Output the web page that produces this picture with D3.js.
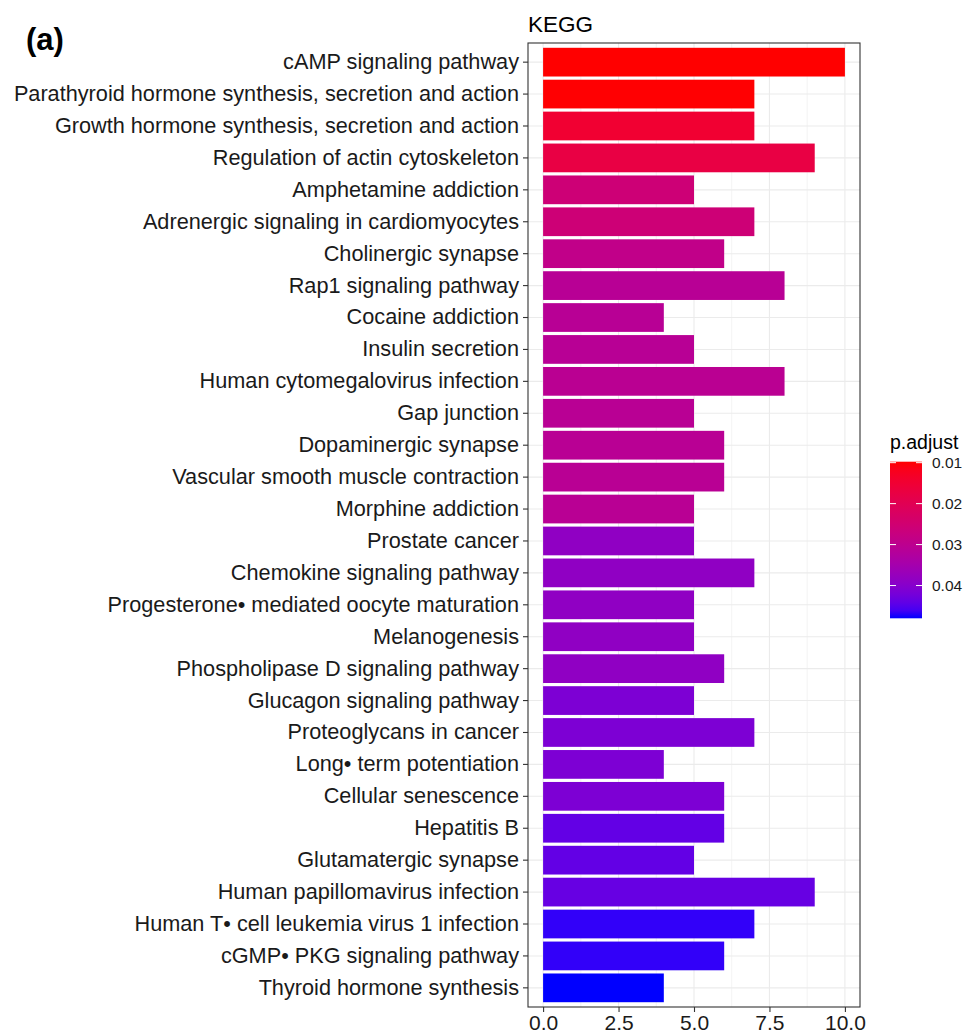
<!DOCTYPE html>
<html>
<head>
<meta charset="utf-8">
<script src="https://cdn.jsdelivr.net/npm/d3@7"></script>
<style>
  html, body { margin: 0; padding: 0; background: #ffffff; }
  svg { display: block; font-family: "Liberation Sans", Arial, Helvetica, sans-serif; }
</style>
</head>
<body>
<svg id="chart" width="966" height="1035"></svg>
<script>
// KEGG pathway enrichment: gene count per pathway, coloured by adjusted p-value
const pathways = [
  "cAMP signaling pathway",
  "Parathyroid hormone synthesis, secretion and action",
  "Growth hormone synthesis, secretion and action",
  "Regulation of actin cytoskeleton",
  "Amphetamine addiction",
  "Adrenergic signaling in cardiomyocytes",
  "Cholinergic synapse",
  "Rap1 signaling pathway",
  "Cocaine addiction",
  "Insulin secretion",
  "Human cytomegalovirus infection",
  "Gap junction",
  "Dopaminergic synapse",
  "Vascular smooth muscle contraction",
  "Morphine addiction",
  "Prostate cancer",
  "Chemokine signaling pathway",
  "Progesterone\u2022 mediated oocyte maturation",
  "Melanogenesis",
  "Phospholipase D signaling pathway",
  "Glucagon signaling pathway",
  "Proteoglycans in cancer",
  "Long\u2022 term potentiation",
  "Cellular senescence",
  "Hepatitis B",
  "Glutamatergic synapse",
  "Human papillomavirus infection",
  "Human T\u2022 cell leukemia virus 1 infection",
  "cGMP\u2022 PKG signaling pathway",
  "Thyroid hormone synthesis"
];
const geneCount = [10, 7, 7, 9, 5, 7, 6, 8, 4, 5, 8, 5, 6, 6, 5, 5, 7, 5, 5, 6, 5, 7, 4, 6, 6, 5, 9, 7, 6, 4];
const pAdjust = [
  0.00976, 0.0099, 0.0147, 0.0175, 0.0258, 0.0258, 0.0290, 0.0310, 0.0310, 0.0310,
  0.0306, 0.0308, 0.0308, 0.0308, 0.0308, 0.0385, 0.0385, 0.0385, 0.0385, 0.0385,
  0.0412, 0.0412, 0.0412, 0.0412, 0.0439, 0.0439, 0.0436, 0.0470, 0.0470, 0.0480
];
const countTicks = [0, 2.5, 5, 7.5, 10];
const countMinorTicks = [1.25, 3.75, 6.25, 8.75];
const legendTicks = [0.01, 0.02, 0.03, 0.04];

const data = pathways.map((name, i) => ({ name, count: geneCount[i], p: pAdjust[i] }));

const svg = d3.select("#chart");
const panel = { left: 528, right: 860, top: 43, bottom: 1007 };

const x = d3.scaleLinear().domain([-0.5, 10.5]).range([panel.left, panel.right]);
const y = d3.scaleBand()
  .domain(pathways)
  .range([panel.top, panel.bottom])
  .paddingInner(0.1)
  .paddingOuter(0.15);

const pExtent = d3.extent(pAdjust);
const color = d3.scaleSequential(d3.interpolateLab("#ff0000", "#0000ff")).domain(pExtent);

// panel background and grid
const grid = svg.append("g");
grid.append("rect")
  .attr("x", panel.left).attr("y", panel.top)
  .attr("width", panel.right - panel.left).attr("height", panel.bottom - panel.top)
  .attr("fill", "#ffffff");
grid.selectAll("line.minor-x").data(countMinorTicks).join("line")
  .attr("x1", d => x(d)).attr("x2", d => x(d))
  .attr("y1", panel.top).attr("y2", panel.bottom)
  .attr("stroke", "#ebebeb").attr("stroke-width", 0.6);
grid.selectAll("line.major-x").data(countTicks).join("line")
  .attr("x1", d => x(d)).attr("x2", d => x(d))
  .attr("y1", panel.top).attr("y2", panel.bottom)
  .attr("stroke", "#ebebeb").attr("stroke-width", 1.1);
grid.selectAll("line.major-y").data(pathways).join("line")
  .attr("x1", panel.left).attr("x2", panel.right)
  .attr("y1", d => y(d) + y.bandwidth() / 2).attr("y2", d => y(d) + y.bandwidth() / 2)
  .attr("stroke", "#ebebeb").attr("stroke-width", 1.1);

// bars
svg.append("g").selectAll("rect").data(data).join("rect")
  .attr("x", x(0))
  .attr("y", d => y(d.name))
  .attr("width", d => x(d.count) - x(0))
  .attr("height", y.bandwidth())
  .attr("fill", d => color(d.p));

// panel border
svg.append("rect")
  .attr("x", panel.left).attr("y", panel.top)
  .attr("width", panel.right - panel.left).attr("height", panel.bottom - panel.top)
  .attr("fill", "none").attr("stroke", "#333333").attr("stroke-width", 1.1);

// axes
const xAxis = svg.append("g")
  .attr("transform", `translate(0,${panel.bottom})`)
  .call(d3.axisBottom(x).tickValues(countTicks).tickFormat(d3.format(".1f")).tickSize(5).tickPadding(3));
const yAxis = svg.append("g")
  .attr("transform", `translate(${panel.left},0)`)
  .call(d3.axisLeft(y).tickSize(5).tickPadding(4));
[xAxis, yAxis].forEach(ax => {
  ax.select(".domain").remove();
  ax.selectAll(".tick line").attr("stroke", "#333333").attr("stroke-width", 1.1);
  ax.selectAll(".tick text")
    .attr("fill", "#1a1a1a")
    .style("font-family", "'Liberation Sans', Arial, sans-serif");
});
xAxis.selectAll(".tick text").style("font-size", "21px");
yAxis.selectAll(".tick text").style("font-size", "21.7px");

// title and panel tag
svg.append("text")
  .attr("x", panel.left).attr("y", 32)
  .attr("fill", "#000")
  .style("font-size", "22.5px")
  .text("KEGG");
svg.append("text")
  .attr("x", 26).attr("y", 50)
  .attr("fill", "#000")
  .style("font-size", "31px")
  .style("font-weight", "bold")
  .text("(a)");

// colour bar legend
const legend = { x: 890, width: 32, top: 461.7, bottom: 618.3 };
const ly = d3.scaleLinear().domain(pExtent).range([legend.top, legend.bottom]);
const grad = svg.append("defs").append("linearGradient")
  .attr("id", "padjGrad").attr("x1", 0).attr("y1", 0).attr("x2", 0).attr("y2", 1);
d3.range(0, 1.0001, 0.05).forEach(t => {
  grad.append("stop")
    .attr("offset", t)
    .attr("stop-color", color(pExtent[0] + t * (pExtent[1] - pExtent[0])));
});
svg.append("text")
  .attr("x", legend.x).attr("y", 449)
  .attr("fill", "#000")
  .style("font-size", "19.5px")
  .text("p.adjust");
svg.append("rect")
  .attr("x", legend.x).attr("y", legend.top)
  .attr("width", legend.width).attr("height", legend.bottom - legend.top)
  .attr("fill", "url(#padjGrad)");
const lt = svg.append("g").selectAll("g").data(legendTicks).join("g");
lt.append("line")
  .attr("x1", legend.x).attr("x2", legend.x + 6)
  .attr("y1", d => ly(d)).attr("y2", d => ly(d))
  .attr("stroke", "#ffffff").attr("stroke-width", 1);
lt.append("line")
  .attr("x1", legend.x + legend.width - 6).attr("x2", legend.x + legend.width)
  .attr("y1", d => ly(d)).attr("y2", d => ly(d))
  .attr("stroke", "#ffffff").attr("stroke-width", 1);
lt.append("text")
  .attr("x", legend.x + legend.width + 10)
  .attr("y", d => ly(d))
  .attr("dy", "0.35em")
  .attr("fill", "#1a1a1a")
  .style("font-size", "15.5px")
  .text(d => d3.format(".2f")(d));
</script>
</body>
</html>
